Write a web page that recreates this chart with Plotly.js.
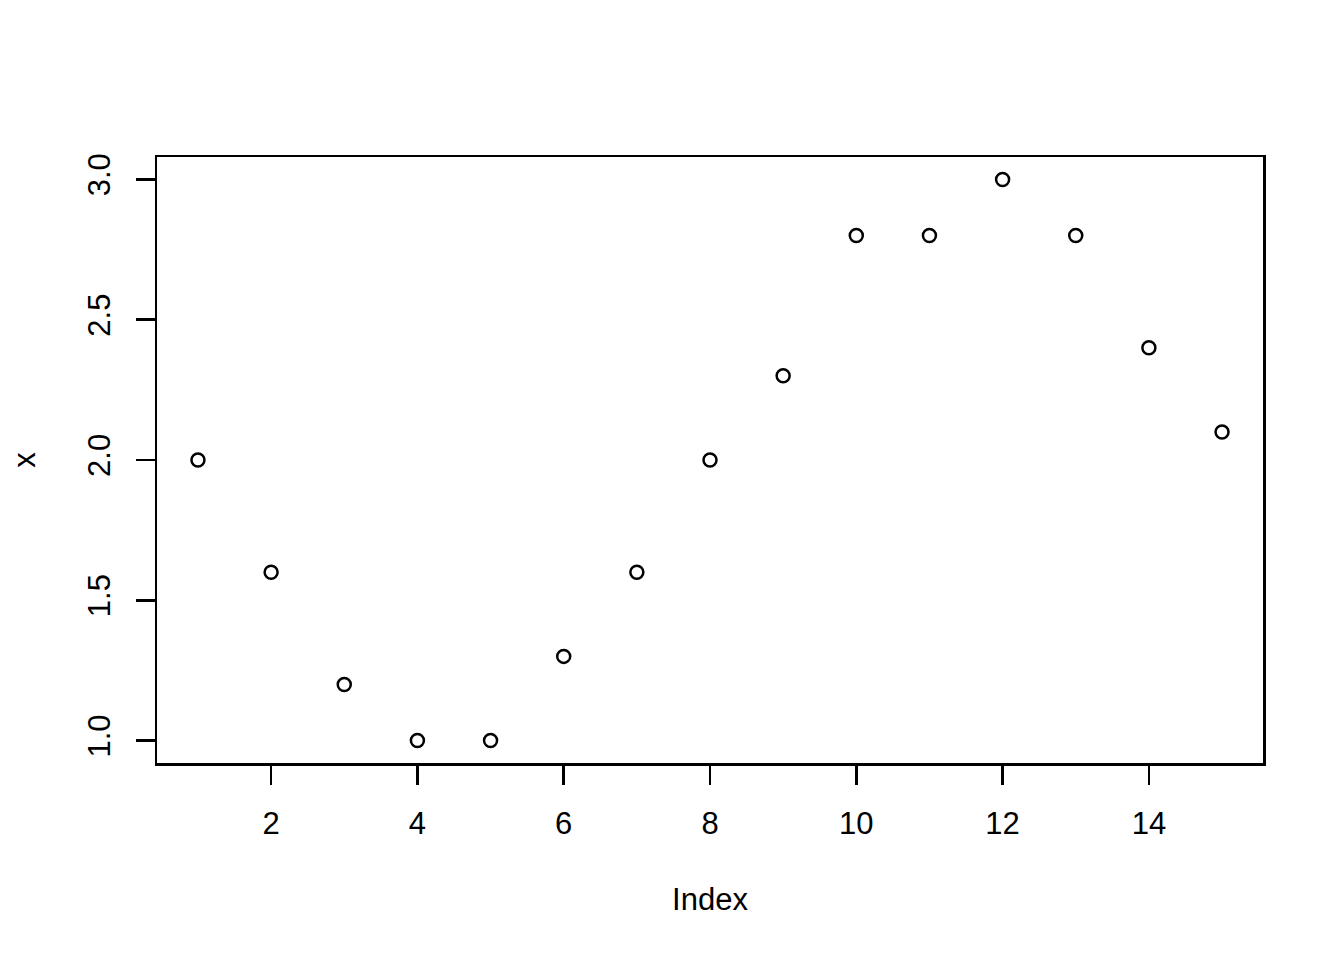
<!DOCTYPE html>
<html>
<head>
<meta charset="utf-8">
<script src="https://cdn.plot.ly/plotly-3.0.1.min.js"></script>
<style>html,body{margin:0;padding:0;background:#fff;}#chart{width:1344px;height:960px;}</style>
</head>
<body>
<div id="chart"></div>
<script>
const indexValues = [1,2,3,4,5,6,7,8,9,10,11,12,13,14,15];
const xValues = [2.0,1.6,1.2,1.0,1.0,1.3,1.6,2.0,2.3,2.8,2.8,3.0,2.8,2.4,2.1];
const xTicks = [2,4,6,8,10,12,14];
const yTicks = [1.0,1.5,2.0,2.5,3.0];
const yTickLabels = ["1.0","1.5","2.0","2.5","3.0"];

const font = {family: "Liberation Sans, Arial, sans-serif", size: 31, color: "#000"};

const trace = {
  x: indexValues, y: xValues, type: "scatter", mode: "markers",
  marker: {symbol: "circle-open", size: 13, color: "#000", line: {width: 2.5, color: "#000"}},
  hoverinfo: "skip"
};

const layout = {
  width: 1344, height: 960,
  margin: {l: 157, r: 81, t: 157, b: 197},
  paper_bgcolor: "#fff", plot_bgcolor: "#fff",
  showlegend: false,
  font: font,
  xaxis: {
    range: [0.44, 15.56], tickmode: "array", tickvals: xTicks,
    ticks: "outside", ticklen: 19, tickwidth: 2.5, tickcolor: "#000",
    showline: true, mirror: true, linewidth: 2.5, linecolor: "#000",
    showgrid: false, zeroline: false, tickfont: font,
    ticklabelstandoff: 12,
    title: {text: "Index", font: font, standoff: 49}
  },
  yaxis: {
    range: [0.92, 3.08], tickmode: "array", tickvals: yTicks, ticktext: yTickLabels,
    ticks: "outside", ticklen: 19, tickwidth: 2.5, tickcolor: "#000", tickangle: -90,
    showline: true, mirror: true, linewidth: 2.5, linecolor: "#000",
    showgrid: false, zeroline: false, tickfont: font,
    ticklabelstandoff: 13,
    title: {text: "x", font: font, standoff: 37}
  }
};

Plotly.newPlot("chart", [trace], layout, {staticPlot: true, displayModeBar: false});
</script>
</body>
</html>
